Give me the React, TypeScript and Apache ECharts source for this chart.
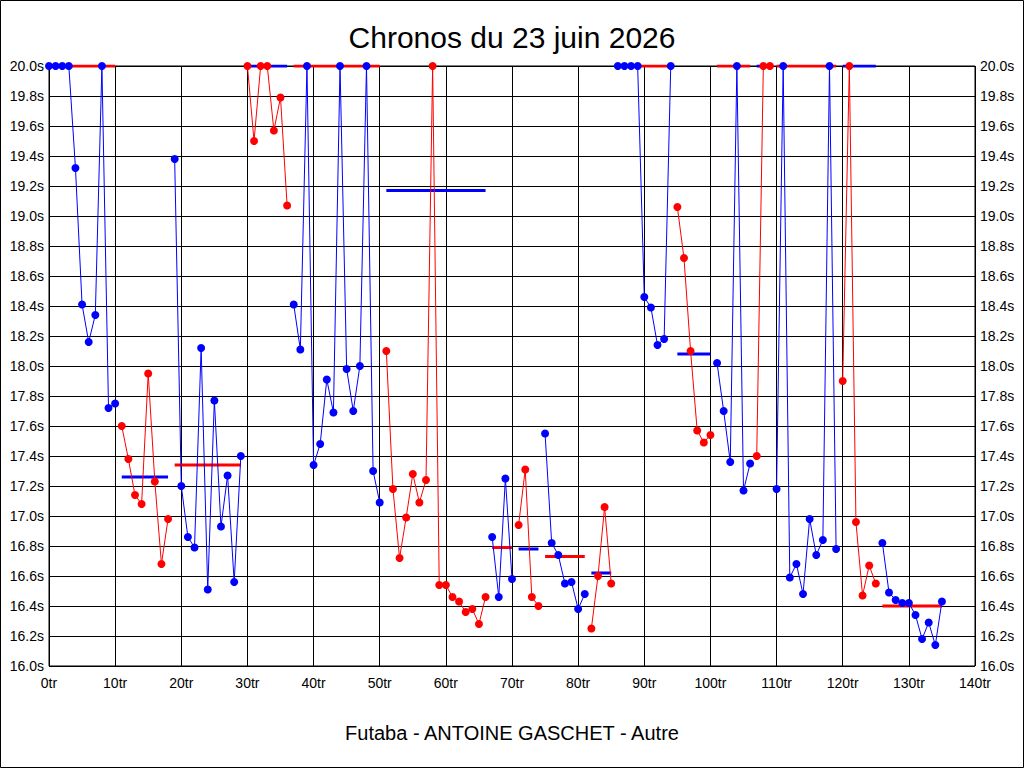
import React, { useEffect, useRef } from "react";
import * as echarts from "echarts";

// lap times (s) for lap 0..135
const lapTimes = [
    20.0, 20.0, 20.0, 20.0, 19.32, 18.41, 18.16, 18.34, 20.0, 17.72,
    17.75, 17.60, 17.38, 17.14, 17.08, 17.95, 17.23, 16.68, 16.98, 19.38,
    17.20, 16.86, 16.79, 18.12, 16.51, 17.77, 16.93, 17.27, 16.56, 17.40,
    20.0, 19.50, 20.0, 20.0, 19.57, 19.79, 19.07, 18.41, 18.11, 20.0,
    17.34, 17.48, 17.91, 17.69, 20.0, 17.98, 17.70, 18.00, 20.0, 17.30,
    17.09, 18.10, 17.18, 16.72, 16.99, 17.28, 17.09, 17.24, 20.0, 16.54,
    16.54, 16.46, 16.43, 16.36, 16.38, 16.28, 16.46, 16.86, 16.46, 17.25,
    16.58, 16.94, 17.31, 16.46, 16.40, 17.55, 16.82, 16.74, 16.55, 16.56,
    16.38, 16.48, 16.25, 16.60, 17.06, 16.55, 20.0, 20.0, 20.0, 20.0,
    18.46, 18.39, 18.14, 18.18, 20.0, 19.06, 18.72, 18.10, 17.57, 17.49,
    17.54, 18.02, 17.70, 17.36, 20.0, 17.17, 17.35, 17.40, 20.0, 20.0,
    17.18, 20.0, 16.59, 16.68, 16.48, 16.98, 16.74, 16.84, 20.0, 16.78,
    17.90, 20.0, 16.96, 16.47, 16.67, 16.55, 16.82, 16.49, 16.44, 16.42,
    16.42, 16.34, 16.18, 16.29, 16.14, 16.43,
];

// first lap of each run, and the average line drawn over it
const runStarts = [0, 11, 19, 30, 37, 51, 67, 71, 75, 82, 86, 95, 101, 107, 110, 120, 126];
const runAverages = [20.0, 17.26, 17.34, 20.0, 20.0, 19.17, 16.79, 16.78, 16.73, 16.62, 20.0, 18.08, 20.0, 20.0, 20.0, 20.0, 16.40];

const BLUE = "#0000FF";
const RED = "#FF0000";
const FONT = "'Liberation Sans', Arial, sans-serif";

const App: React.FC = () => {
    const chartRef = useRef<HTMLDivElement>(null);

    useEffect(() => {
        document.body.style.margin = "0";
        if (!chartRef.current) return;
        const chart = echarts.init(chartRef.current, null, { renderer: "svg" });

        const avgSeries: any[] = [];
        const runSeries: any[] = [];
        runStarts.forEach((start, i) => {
            const end = i + 1 < runStarts.length ? runStarts[i + 1] - 1 : lapTimes.length - 1;
            const color = i % 2 === 0 ? BLUE : RED;
            const other = i % 2 === 0 ? RED : BLUE;
            const pts: number[][] = [];
            for (let k = start; k <= end; k++) pts.push([k, lapTimes[k]]);
            runSeries.push({
                type: "line",
                data: pts,
                symbol: "circle",
                symbolSize: 8,
                showAllSymbol: true,
                itemStyle: { color },
                lineStyle: { color, width: 1 },
                z: 3,
                silent: true,
            });
            avgSeries.push({
                type: "line",
                data: [[start, runAverages[i]], [end, runAverages[i]]],
                symbol: "none",
                lineStyle: { color: other, width: 3 },
                z: 2,
                silent: true,
            });
        });

        const yAxisBase = {
            type: "value",
            min: 16,
            max: 20,
            interval: 0.2,
            axisLine: { show: false },
            axisTick: { show: false },
            axisLabel: {
                color: "#000",
                fontFamily: FONT,
                fontSize: 14,
                margin: 5,
                formatter: (v: number) => v.toFixed(1) + "s",
            },
        };

        chart.setOption({
            animation: false,
            backgroundColor: "#fff",
            title: {
                text: "Chronos du 23 juin 2026",
                left: "center",
                top: 17,
                textStyle: { fontFamily: FONT, fontSize: 30, fontWeight: "normal", color: "#000" },
            },
            grid: {
                left: 49,
                right: 49,
                top: 66,
                bottom: 102,
                show: true,
                borderColor: "#000",
                borderWidth: 1,
            },
            xAxis: {
                type: "value",
                min: 0,
                max: 140,
                interval: 10,
                axisLine: { show: false },
                axisTick: { show: false },
                splitLine: { lineStyle: { color: "#000", width: 1 } },
                axisLabel: {
                    color: "#000",
                    fontFamily: FONT,
                    fontSize: 14,
                    margin: 10,
                    formatter: "{value}tr",
                },
            },
            yAxis: [
                { ...yAxisBase, position: "left", splitLine: { lineStyle: { color: "#000", width: 1 } } },
                { ...yAxisBase, position: "right", splitLine: { show: false } },
            ],
            graphic: [
                {
                    type: "rect",
                    shape: { x: 0.5, y: 0.5, width: 1023, height: 767 },
                    style: { fill: "none", stroke: "#000", lineWidth: 1 },
                    silent: true,
                },
                {
                    type: "text",
                    x: 512,
                    y: 733,
                    style: {
                        text: "Futaba - ANTOINE GASCHET - Autre",
                        fontFamily: FONT,
                        fontSize: 20,
                        fill: "#000",
                        align: "center",
                        verticalAlign: "middle",
                    },
                    silent: true,
                },
            ],
            series: [...avgSeries, ...runSeries],
        });

        return () => chart.dispose();
    }, []);

    return <div ref={chartRef} style={{ width: 1024, height: 768 }} />;
};

export default App;
